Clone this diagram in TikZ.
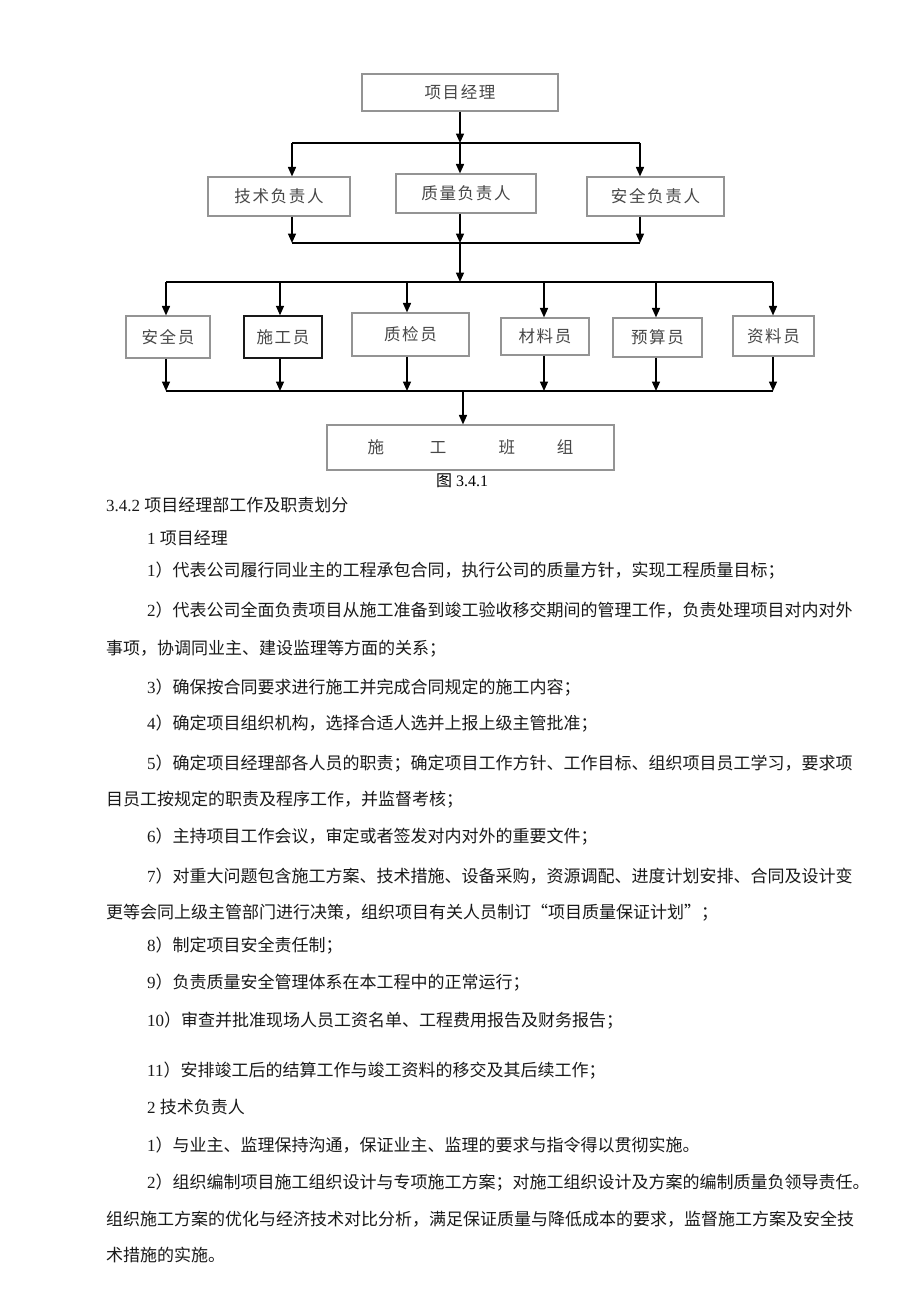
\documentclass[tikz,border=0pt]{standalone}
\usepackage{fontspec}
\setmainfont{Liberation Serif}
\newfontfamily\cjk{Noto Sans CJK SC}
\newfontfamily\cjkbox[LetterSpace=10]{Noto Sans CJK SC}
\usetikzlibrary{arrows.meta}
\begin{document}
\begin{tikzpicture}[x=1pt,y=-1pt,
  box/.style={draw=black!42,line width=1.1pt,inner sep=0pt,font=\cjkbox\fontsize{16.5}{16.5}\selectfont,text=black!72},
  darkbox/.style={box,draw=black!90,line width=1.4pt},
  conn/.style={line width=1.6pt,black},
  arr/.style={conn,-{Triangle[length=9.5pt,width=8pt]}},
  txt/.style={anchor=west,inner sep=0pt,font=\fontsize{17}{17}\selectfont,text=black!90}
]
\useasboundingbox[fill=white] (0,0) rectangle (920,1301);

% ---------------- diagram ----------------
\node[box,minimum width=196pt,minimum height=37pt] (pm) at (460,92.5) {项目经理};
\node[box,minimum width=142pt,minimum height=39pt] (tech) at (279,196.5) {技术负责人};
\node[box,minimum width=140pt,minimum height=39pt] (qual) at (466,193.5) {质量负责人};
\node[box,minimum width=137pt,minimum height=39pt] (safe) at (655.5,196.5) {安全负责人};

\node[box,minimum width=84pt,minimum height=42pt] (aq) at (168,337) {安全员};
\node[darkbox,minimum width=78pt,minimum height=42pt] (sg) at (283,337) {施工员};
\node[box,minimum width=117pt,minimum height=43pt] (zj) at (410.5,334.5) {质检员};
\node[box,minimum width=88pt,minimum height=37pt] (cl) at (545,336.5) {材料员};
\node[box,minimum width=89pt,minimum height=39pt] (ys) at (657.5,337.5) {预算员};
\node[box,minimum width=81pt,minimum height=40pt] (zl) at (773.5,336) {资料员};

\node[box,minimum width=287pt,minimum height=45pt] (team) at (470.5,447.5) {施\hspace{46pt}工\hspace{52pt}班\hspace{42pt}组};

% bus 1
\coordinate (b1) at (460,143);
\coordinate (b1L) at (292,143);
\coordinate (b1R) at (640,143);
\draw[arr] (pm.south) -- (b1);
\draw[conn] (b1L) -- (b1R);
\draw[arr] (b1L) -- (b1L |- tech.north);
\draw[arr] (b1) -- (b1 |- qual.north);
\draw[arr] (b1R) -- (b1R |- safe.north);

% bus 2
\coordinate (b2) at (460,243);
\coordinate (b2L) at (292,243);
\coordinate (b2R) at (640,243);
\draw[conn] (b2L) -- (b2R);
\draw[arr] (b2L |- tech.south) -- (b2L);
\draw[arr] (b2 |- qual.south) -- (b2);
\draw[arr] (b2R |- safe.south) -- (b2R);

% bus 3
\coordinate (b3) at (460,282);
\coordinate (b3L) at (166,282);
\coordinate (b3R) at (773,282);
\draw[arr] (b2) -- (b3);
\draw[conn] (b3L) -- (b3R);
\coordinate (c1) at (166,282);
\coordinate (c2) at (280,282);
\coordinate (c3) at (407,282);
\coordinate (c4) at (544,282);
\coordinate (c5) at (656,282);
\coordinate (c6) at (773,282);
\draw[arr] (c1) -- (c1 |- aq.north);
\draw[arr] (c2) -- (c2 |- sg.north);
\draw[arr] (c3) -- (c3 |- zj.north);
\draw[arr] (c4) -- (c4 |- cl.north);
\draw[arr] (c5) -- (c5 |- ys.north);
\draw[arr] (c6) -- (c6 |- zl.north);

% bus 4
\coordinate (b4L) at (166,391);
\coordinate (b4R) at (773,391);
\coordinate (b4) at (463,391);
\draw[conn] (b4L) -- (b4R);
\coordinate (d1) at (166,391);
\coordinate (d2) at (280,391);
\coordinate (d3) at (407,391);
\coordinate (d4) at (544,391);
\coordinate (d5) at (656,391);
\coordinate (d6) at (773,391);
\draw[arr] (d1 |- aq.south) -- (d1);
\draw[arr] (d2 |- sg.south) -- (d2);
\draw[arr] (d3 |- zj.south) -- (d3);
\draw[arr] (d4 |- cl.south) -- (d4);
\draw[arr] (d5 |- ys.south) -- (d5);
\draw[arr] (d6 |- zl.south) -- (d6);
\draw[arr] (b4) -- (b4 |- team.north);

\node[inner sep=0pt,font=\fontsize{16}{16}\selectfont] (cap) at (462,481) {{\cjk 图} 3.4.1};

% ---------------- text ----------------
\node[txt] (l1) at (106,505) {3.4.2 \cjk 项目经理部工作及职责划分};
\node[txt] (l2) at (147,538) {1 \cjk 项目经理};
\node[txt] (l3) at (147,571) {1\cjk ）代表公司履行同业主的工程承包合同，执行公司的质量方针，实现工程质量目标；};
\node[txt] (l4) at (147,610) {2\cjk ）代表公司全面负责项目从施工准备到竣工验收移交期间的管理工作，负责处理项目对内对外};
\node[txt] (l5) at (106,649) {\cjk 事项，协调同业主、建设监理等方面的关系；};
\node[txt] (l6) at (147,688) {3\cjk ）确保按合同要求进行施工并完成合同规定的施工内容；};
\node[txt] (l7) at (147,724) {4\cjk ）确定项目组织机构，选择合适人选并上报上级主管批准；};
\node[txt] (l8) at (147,764) {5\cjk ）确定项目经理部各人员的职责；确定项目工作方针、工作目标、组织项目员工学习，要求项};
\node[txt] (l9) at (106,800) {\cjk 目员工按规定的职责及程序工作，并监督考核；};
\node[txt] (l10) at (147,837) {6\cjk ）主持项目工作会议，审定或者签发对内对外的重要文件；};
\node[txt] (l11) at (147,876) {7\cjk ）对重大问题包含施工方案、技术措施、设备采购，资源调配、进度计划安排、合同及设计变};
\node[txt] (l12) at (106,913) {\cjk 更等会同上级主管部门进行决策，组织项目有关人员制订“项目质量保证计划”；};
\node[txt] (l13) at (147,946) {8\cjk ）制定项目安全责任制；};
\node[txt] (l14) at (147,983) {9\cjk ）负责质量安全管理体系在本工程中的正常运行；};
\node[txt] (l15) at (147,1021) {10\cjk ）审查并批准现场人员工资名单、工程费用报告及财务报告；};
\node[txt] (l16) at (147,1071) {11\cjk ）安排竣工后的结算工作与竣工资料的移交及其后续工作；};
\node[txt] (l17) at (147,1107) {2 \cjk 技术负责人};
\node[txt] (l18) at (147,1145) {1\cjk ）与业主、监理保持沟通，保证业主、监理的要求与指令得以贯彻实施。};
\node[txt] (l19) at (147,1183) {2\cjk ）组织编制项目施工组织设计与专项施工方案；对施工组织设计及方案的编制质量负领导责任。};
\node[txt] (l20) at (106,1219) {\cjk 组织施工方案的优化与经济技术对比分析，满足保证质量与降低成本的要求，监督施工方案及安全技};
\node[txt] (l21) at (106,1255) {\cjk 术措施的实施。};
\end{tikzpicture}
\end{document}
